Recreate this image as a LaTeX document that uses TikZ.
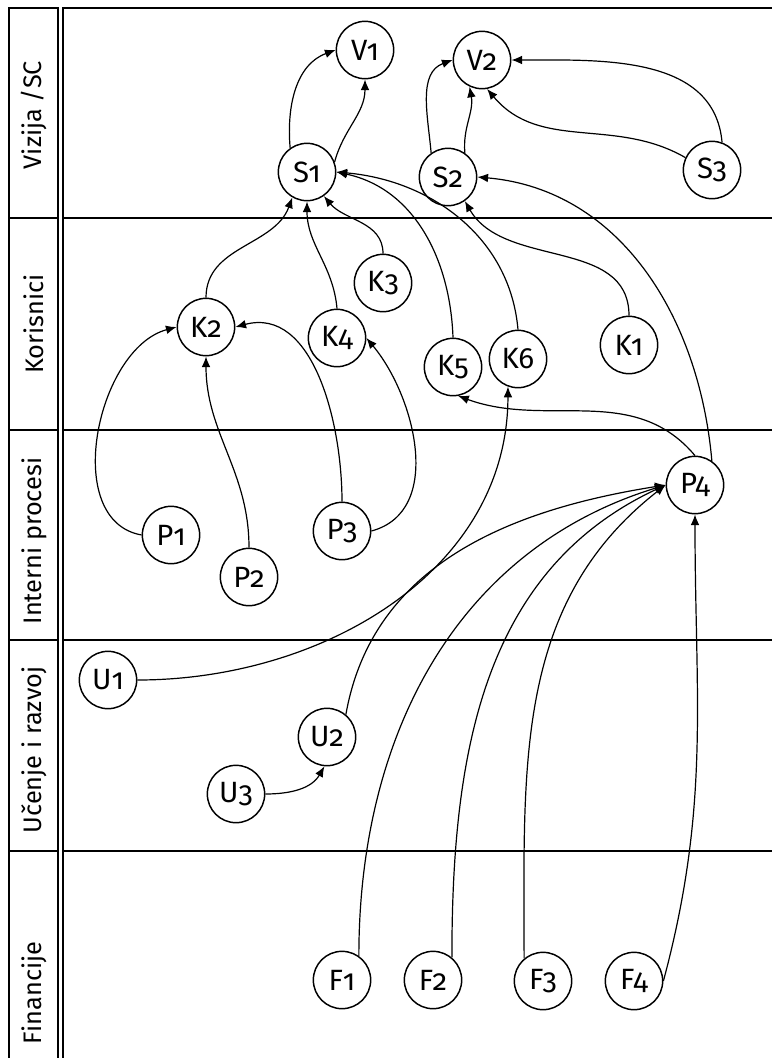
\documentclass[tikz,border=0pt]{standalone}
\usepackage{fontspec}
\setmainfont{Fira Sans}[Numbers=OldStyle]
\usetikzlibrary{arrows.meta}

\begin{document}
\begin{tikzpicture}[
  x=0.75pt, y=0.75pt,
  goal/.style={draw, circle, line width=1.1pt, minimum size=43pt, inner sep=0pt,
    font=\fontsize{22}{24}\selectfont},
  lane/.style={rotate=90, font=\fontsize{19}{21}\selectfont},
  frame/.style={line width=1.3pt},
  link/.style={-{Latex[length=8pt,width=6.5pt]}, line width=0.9pt}
]
  \useasboundingbox (0,0) rectangle (772,-1058);

  % lanes
  \draw[frame] (9,-1058) -- (9,-8) -- (58,-8) -- (58,-1058);
  \draw[frame] (63,-1058) -- (63,-8) -- (772,-8);
  \foreach \y in {218,430,640,851} {
    \draw[frame] (9,-\y) -- (58,-\y);
    \draw[frame] (63,-\y) -- (772,-\y);
  }
  \node[lane] (vizija) at (34,-115) {Vizija /SC};
  \node[lane] (korisnici) at (34,-324) {Korisnici};
  \node[lane] (procesi) at (34,-541) {Interni procesi};
  \node[lane] (ucenje) at (34,-750) {Učenje i razvoj};
  \node[lane] (financije) at (34,-993) {Financije};

  % goals
  \node[goal] (V1) at (365,-50) {V1};
  \node[goal] (V2) at (482,-60) {V2};
  \node[goal] (S1) at (307,-172) {S1};
  \node[goal] (S2) at (448,-177) {S2};
  \node[goal] (S3) at (712,-170) {S3};
  \node[goal] (K1) at (629,-345) {K1};
  \node[goal] (K2) at (206,-327) {K2};
  \node[goal] (K3) at (383,-283) {K3};
  \node[goal] (K4) at (337,-338) {K4};
  \node[goal] (K5) at (453,-367) {K5};
  \node[goal] (K6) at (518,-359) {K6};
  \node[goal] (P1) at (171,-535) {P1};
  \node[goal] (P2) at (249,-577) {P2};
  \node[goal] (P3) at (342,-531) {P3};
  \node[goal] (P4) at (695,-485) {P4};
  \node[goal] (U1) at (108,-680) {U1};
  \node[goal] (U2) at (327,-737) {U2};
  \node[goal] (U3) at (236,-794) {U3};
  \node[goal] (F1) at (342,-980) {F1};
  \node[goal] (F2) at (433,-980) {F2};
  \node[goal] (F3) at (543,-981) {F3};
  \node[goal] (F4) at (634,-981) {F4};

  % links
  \draw[link] (S1.125) to[out=95, in=200] (V1.west);
  \draw[link] (S1.20) to[out=75, in=-90] (V1.south);
  \draw[link] (S2.125) to[out=95, in=200] (V2.west);
  \draw[link] (S2.55) to[out=95, in=-80] (V2.-115);
  \draw[link] (S3.155) to[out=150, in=-50] (V2.-80);
  \draw[link] (S3.70) to[out=95, in=0] (V2.east);

  \draw[link] (K2.north) to[out=90, in=-110] (S1.-120);
  \draw[link] (K4.north) to[out=95, in=-90] (S1.south);
  \draw[link] (K3.north) to[out=90, in=-50] (S1.-55);
  \draw[link] (K5.north) to[out=92, in=-12] (S1.east);
  \draw[link] (K6.north) to[out=95, in=-5] (S1.east);
  \draw[link] (K1.north) to[out=90, in=-60] (S2.-55);
  \draw[link] (P4.55) to[out=95, in=-5] (S2.east);

  \draw[link] (P1.west) to[out=170, in=195] (K2.west);
  \draw[link] (P2.north) to[out=90, in=-90] (K2.south);
  \draw[link] (P3.north) to[out=90, in=15] (K2.east);
  \draw[link] (P3.east) to[out=15, in=-50] (K4.east);
  \draw[link] (P4.north) to[out=130, in=-20] (K5.-80);
  \draw[link] (U1.east) to[out=0, in=-90] (K6.-110);

  \draw[link] (U2.50) to[out=80, in=189] (P4.west);
  \draw[link] (U3.east) to[out=0, in=-120] (U2.-95);
  \draw[link] (F1.55) to[out=90, in=197] (P4.west);
  \draw[link] (F2.50) to[out=90, in=205] (P4.west);
  \draw[link] (F3.130) to[out=90, in=218] (P4.west);
  \draw[link] (F4.east) to[out=75, in=-90] (P4.south);
\end{tikzpicture}
\end{document}
